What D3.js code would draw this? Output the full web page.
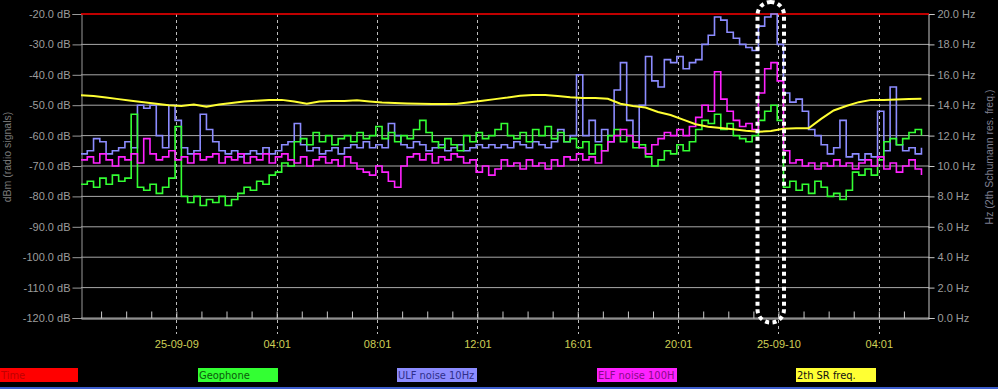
<!DOCTYPE html>
<html><head><meta charset="utf-8">
<script src="https://cdn.jsdelivr.net/npm/d3@7"></script>
<style>
html,body{margin:0;padding:0;background:#000;overflow:hidden;}
svg{display:block;}
text{font-family:"Liberation Sans",Arial,sans-serif;}
</style></head>
<body>
<script>
// ---------- DATA ----------
const startTime = new Date(2025, 8, 8, 20, 13);   // first sample
const endTime = new Date(2025, 8, 10, 6, 1);      // axis end
const sampleMinutes = 15;                         // noisy series spacing
const srSampleMinutes = 30;                       // SR freq spacing

const yTicksDb = [-20, -30, -40, -50, -60, -70, -80, -90, -100, -110, -120];
const yTicksHz = [20, 18, 16, 14, 12, 10, 8, 6, 4, 2, 0];
const xMajorTimes = [new Date(2025,8,9,0,1), new Date(2025,8,9,4,1), new Date(2025,8,9,8,1), new Date(2025,8,9,12,1),
                     new Date(2025,8,9,16,1), new Date(2025,8,9,20,1), new Date(2025,8,10,0,1), new Date(2025,8,10,4,1)];
const xTickLabels = ["25-09-09", "04:01", "08:01", "12:01", "16:01", "20:01", "25-09-10", "04:01"];

const timeSeries = [-20, -20]; // "Time" trace (top red line)

const geophone = [-76,-75,-77,-74,-76,-73,-75,-74,-53,-77,-78,-76,-79,-77,-74,-57,-80,-82,-80,-83,
  -81,-82,-80,-83,-81,-79,-77,-78,-75,-76,-73,-72,-69,-70,-62,-61,-63,-59,-62,-60,
  -63,-61,-60,-62,-59,-61,-60,-57,-61,-59,-62,-60,-61,-58,-55,-59,-62,-64,-61,-63,
  -65,-60,-62,-59,-61,-60,-58,-56,-60,-61,-59,-62,-58,-60,-57,-61,-59,-62,-61,-64,
  -62,-66,-63,-65,-60,-58,-62,-60,-64,-63,-67,-70,-68,-65,-66,-63,-65,-62,-58,-55,
  -56,-53,-58,-56,-60,-61,-62,-60,-55,-52,-50,-55,-77,-75,-78,-76,-79,-75,-77,-80,
  -79,-81,-78,-72,-73,-71,-73,-68,-62,-61,-63,-61,-59,-58,-60];

const ulfNoise = [-66,-65,-61,-62,-66,-65,-64,-62,-64,-50,-51,-50,-60,-64,-50,-55,-64,-66,-65,-53,
  -58,-62,-65,-66,-65,-67,-66,-65,-66,-64,-66,-65,-63,-62,-56,-63,-65,-64,-66,-65,
  -64,-66,-64,-63,-64,-62,-64,-63,-64,-56,-60,-63,-64,-62,-63,-65,-64,-63,-65,-64,
  -63,-65,-64,-63,-64,-63,-64,-63,-64,-62,-63,-64,-62,-63,-64,-62,-58,-62,-60,-40,
  -60,-55,-62,-58,-62,-45,-36,-55,-62,-50,-34,-42,-44,-35,-36,-34,-38,-36,-35,-30,
  -27,-21,-22,-26,-28,-30,-31,-32,-24,-21,-20,-30,-46,-49,-48,-52,-58,-60,-63,-66,
  -64,-55,-67,-66,-68,-66,-67,-52,-65,-44,-63,-65,-64,-66,-64];

const elfNoise = [-68,-67,-69,-66,-68,-70,-67,-68,-66,-69,-61,-66,-68,-67,-65,-68,-67,-69,-66,-68,
  -67,-66,-69,-67,-68,-66,-69,-67,-68,-66,-69,-67,-66,-68,-69,-67,-70,-68,-67,-69,
  -68,-70,-67,-69,-71,-72,-73,-70,-72,-75,-77,-70,-67,-66,-68,-66,-69,-67,-68,-66,
  -67,-69,-68,-72,-70,-73,-71,-68,-70,-69,-71,-68,-70,-69,-71,-68,-70,-67,-68,-66,
  -68,-67,-69,-65,-62,-60,-58,-60,-62,-64,-66,-63,-61,-59,-60,-58,-60,-57,-54,-50,
  -52,-39,-48,-52,-55,-57,-56,-58,-46,-38,-36,-42,-65,-69,-68,-70,-69,-71,-69,-70,
  -68,-70,-69,-71,-69,-68,-70,-67,-71,-69,-72,-70,-68,-71,-73];

const srFreqHz = [14.65,14.6,14.5,14.4,14.3,14.2,14.1,14.0,13.95,14.05,13.9,14.05,14.15,14.25,14.3,14.35,14.35,14.25,14.1,14.25,
  14.28,14.28,14.32,14.25,14.18,14.15,14.12,14.1,14.08,14.08,14.1,14.2,14.3,14.4,14.5,14.62,14.67,14.67,14.6,14.52,
  14.48,14.47,14.42,14.1,13.95,13.85,13.55,13.35,13.05,12.75,12.58,12.5,12.42,12.32,12.25,12.3,12.45,12.48,12.48,13.1,
  13.65,13.95,14.2,14.35,14.35,14.38,14.4,14.43];

const legendNames = ["Time", "Geophone", "ULF noise 10Hz", "ELF noise 100H", "2th SR freq."];
const legendColors = ["#ff0000", "#33ff33", "#8c8cff", "#ff22ff", "#ffff33"];
const legendTextColors = ["#c00000", "#0c5a0c", "#2f2f8a", "#8a0a8a", "#111111"];

// ---------- CHART ----------
const W = 998, H = 389;
const L = 81, R = 929, T = 14, B = 318;
const svg = d3.select("body").append("svg").attr("width", W).attr("height", H);
svg.append("rect").attr("width", W).attr("height", H).attr("fill", "#000");

const x = d3.scaleTime().domain([startTime, endTime]).range([L, R]);
const yDb = d3.scaleLinear().domain([-120, -20]).range([B, T]);
const yHz = d3.scaleLinear().domain([0, 20]).range([B, T]);

// horizontal grid
svg.append("g").selectAll("line").data(yTicksDb.slice(1)).join("line")
  .attr("x1", L).attr("x2", R).attr("y1", d => yDb(d)).attr("y2", d => yDb(d))
  .attr("stroke", "#a9a9a9").attr("stroke-width", 1);

// vertical dashed major lines
svg.append("g").selectAll("line").data(xMajorTimes).join("line")
  .attr("x1", d => Math.round(x(d)) + 0.5).attr("x2", d => Math.round(x(d)) + 0.5)
  .attr("y1", T).attr("y2", 334)
  .attr("stroke", "#bdbdbd").attr("stroke-width", 1).attr("stroke-dasharray", "3,3");

// left axis
const gL = svg.append("g").attr("transform", `translate(${L + 0.5},0)`)
  .call(d3.axisLeft(yDb).tickValues(yTicksDb).tickSize(9).tickPadding(2).tickFormat(d => d.toFixed(1) + " dB"));
gL.select(".domain").attr("stroke", "#9a9a9a");
gL.selectAll(".tick line").attr("stroke", "#9a9a9a");
gL.selectAll("text").attr("fill", "#9c9c9c").style("font-size", "11px");

// right axis
const gR = svg.append("g").attr("transform", `translate(${R - 0.5},0)`)
  .call(d3.axisRight(yHz).tickValues(yTicksHz).tickSize(6).tickPadding(3).tickFormat(d => d.toFixed(1) + " Hz"));
gR.select(".domain").attr("stroke", "#c8c8c8");
gR.selectAll(".tick line").attr("stroke", "#c8c8c8");
gR.selectAll("text").attr("fill", "#9c9c9c").style("font-size", "11px");

// bottom axis (hourly minor ticks pointing up)
const hourly = d3.timeHour.range(startTime, endTime).map(d => d3.timeMinute.offset(d, 1)).filter(d => d > startTime && d < endTime);
const gB = svg.append("g").attr("transform", `translate(0,${B + 0.5})`)
  .call(d3.axisBottom(x).tickValues(hourly).tickSizeInner(-7).tickSizeOuter(0).tickFormat(""));
gB.select(".domain").attr("stroke", "#c8c8c8");
gB.selectAll(".tick line").attr("stroke", "#c8c8c8");

svg.append("g").selectAll("text").data(xMajorTimes).join("text")
  .attr("x", d => x(d) + 0.5).attr("y", 348).attr("text-anchor", "middle")
  .attr("fill", "#cfcf55").style("font-size", "11px")
  .text((d, i) => xTickLabels[i]);

// axis titles
svg.append("text").attr("transform", "translate(11,157) rotate(-90)").attr("text-anchor", "middle")
  .attr("fill", "#7a7a7a").style("font-size", "10.5px").text("dBm (radio signals)");
svg.append("text").attr("transform", "translate(993,157) rotate(-90)").attr("text-anchor", "middle")
  .attr("fill", "#7f7f8f").style("font-size", "10.5px").text("Hz (2th Schumann res. freq.)");

// series
const tAt = (i, m) => d3.timeMinute.offset(startTime, i * m);
const lineDb = d3.line().x((d, i) => x(tAt(i, sampleMinutes))).y(d => yDb(d)).curve(d3.curveStepAfter);
const lineHz = d3.line().x((d, i) => x(tAt(i, srSampleMinutes))).y(d => yHz(d)).curve(d3.curveLinear);

svg.append("line").attr("x1", L).attr("x2", R).attr("y1", yDb(timeSeries[0])).attr("y2", yDb(timeSeries[1]))
  .attr("stroke", "#ff0000").attr("stroke-width", 1.5);

const plots = svg.append("g").attr("fill", "none").attr("stroke-width", 1.6).attr("stroke-linejoin", "miter");
plots.append("path").attr("d", lineDb(ulfNoise)).attr("stroke", legendColors[2]);
plots.append("path").attr("d", lineDb(geophone)).attr("stroke", legendColors[1]);
plots.append("path").attr("d", lineDb(elfNoise)).attr("stroke", legendColors[3]);
plots.append("path").attr("d", lineHz(srFreqHz)).attr("stroke", legendColors[4]).attr("stroke-width", 2);

// dotted highlight
svg.append("rect").attr("x", 757.5).attr("y", 2).attr("width", 26.5).attr("height", 320.5).attr("rx", 13)
  .attr("fill", "none").attr("stroke", "#fff").attr("stroke-width", 4).attr("stroke-dasharray", "4,3.5");

// legend
const legendX = [0, 198, 397, 597, 796];
const lg = svg.append("g").selectAll("g").data(legendNames).join("g")
  .attr("transform", (d, i) => `translate(${legendX[i]},368)`);
lg.append("rect").attr("width", (d, i) => i === 0 ? 78 : 80).attr("height", 14).attr("fill", (d, i) => legendColors[i]);
lg.append("text").attr("x", 1).attr("y", 11).style("font-size", "11px").style("font-family", "'DejaVu Sans Condensed','Liberation Sans',sans-serif")
  .attr("fill", (d, i) => legendTextColors[i]).text(d => d);

// bottom frame strip
svg.append("rect").attr("x", 0).attr("y", 387).attr("width", W).attr("height", 2).attr("fill", "#3d5fd0");
</script>
</body></html>
